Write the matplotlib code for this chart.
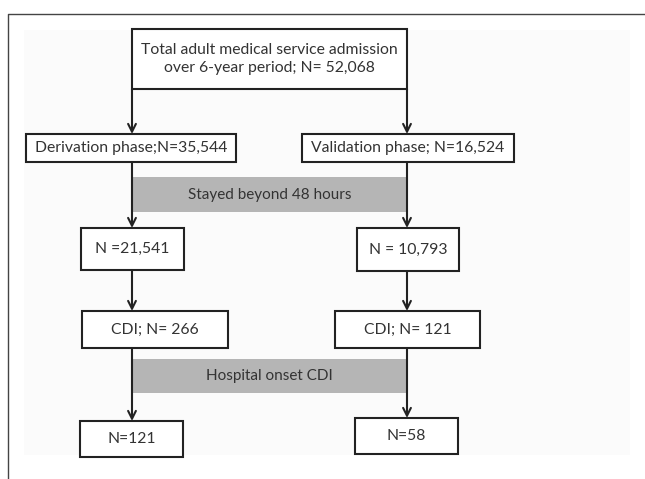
import matplotlib.pyplot as plt
from matplotlib.patches import Rectangle

plt.rcParams['font.family'] = ['Lato', 'DejaVu Sans']

# texts of the flowchart
top_text = 'Total adult medical service admission\nover 6-year period; N= 52,068'
left_texts = ['Derivation phase;N=35,544', 'N =21,541', 'CDI; N= 266', 'N=121']
right_texts = ['Validation phase; N=16,524', 'N = 10,793', 'CDI; N= 121', 'N=58']
band_texts = ['Stayed beyond 48 hours', 'Hospital onset CDI']

# layout in pixels (x0, x1, y0, y1)
left_boxes = [(26, 236, 134, 162), (81, 184, 228, 270), (82, 228, 311, 348), (80, 183, 421, 457)]
right_boxes = [(302, 514, 134, 162), (357, 459, 228, 271), (335, 480, 311, 348), (355, 458, 418, 454)]
bands = [(132, 407, 177, 212), (132, 407, 359, 393)]
xl, xr = 132, 407

ink = '#222222'
txt = '#333333'

fig = plt.figure(figsize=(6.45, 4.79), dpi=100)
ax = fig.add_axes([0, 0, 1, 1])
ax.set_xlim(0, 645)
ax.set_ylim(479, 0)
ax.axis('off')

# outer frame
ax.plot([8, 8, 645], [479, 14, 14], color='#444444', lw=1.0)
ax.add_patch(Rectangle((24, 30), 606, 425, facecolor='#fbfbfb', edgecolor='none', zorder=0))

def box(b, s, fs=11.3):
    x0, x1, y0, y1 = b
    ax.add_patch(Rectangle((x0, y0), x1 - x0, y1 - y0, facecolor='white',
                           edgecolor=ink, lw=1.5, zorder=3))
    ax.text((x0 + x1) / 2, (y0 + y1) / 2, s, ha='center', va='center',
            fontsize=fs, color=txt, zorder=4, linespacing=1.35)

def arrow(x, y0, y1):
    ax.annotate('', xy=(x, y1), xytext=(x, y0),
                arrowprops=dict(arrowstyle='->', color=ink, lw=1.5,
                                shrinkA=0, shrinkB=0, mutation_scale=14), zorder=5)

# gray bands
for (x0, x1, y0, y1), s in zip(bands, band_texts):
    ax.add_patch(Rectangle((x0, y0), x1 - x0, y1 - y0, facecolor='#b5b5b5',
                           edgecolor='none', zorder=1))
    ax.text((x0 + x1) / 2, (y0 + y1) / 2, s, ha='center', va='center',
            fontsize=11, color=txt, zorder=2)

# top box
box((xl, xr, 29, 89), top_text)
arrow(xl, 89, 134)
arrow(xr, 89, 134)

for b, s in zip(left_boxes, left_texts):
    box(b, s)
for b, s in zip(right_boxes, right_texts):
    box(b, s)

for i in range(3):
    arrow(xl, left_boxes[i][3], left_boxes[i + 1][2])
    arrow(xr, right_boxes[i][3], right_boxes[i + 1][2])

fig.savefig('out.png', dpi=100)
